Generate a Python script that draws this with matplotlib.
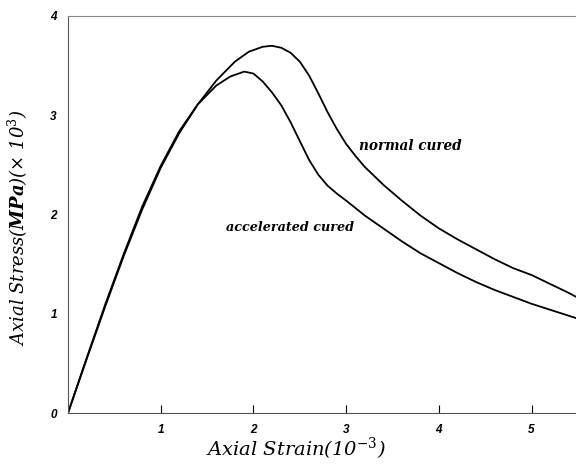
import matplotlib
matplotlib.use("Agg")
import matplotlib.pyplot as plt

# Data (strain in 1e-3, stress in 1e3 MPa)
strain_normal = [0, 0.2, 0.4, 0.6, 0.8, 1.0, 1.2, 1.4, 1.6, 1.8, 1.95, 2.1, 2.2, 2.3, 2.4,
                 2.5, 2.6, 2.7, 2.8, 2.9, 3.0, 3.1, 3.2, 3.4, 3.6, 3.8, 4.0, 4.2, 4.4,
                 4.6, 4.8, 5.0, 5.2, 5.4, 5.5]
stress_normal = [0, 0.54, 1.07, 1.58, 2.05, 2.47, 2.82, 3.11, 3.35, 3.54, 3.64, 3.69, 3.70,
                 3.68, 3.63, 3.54, 3.40, 3.22, 3.03, 2.86, 2.71, 2.59, 2.48, 2.30, 2.14,
                 1.99, 1.86, 1.75, 1.65, 1.55, 1.46, 1.39, 1.30, 1.21, 1.16]

strain_acc = [0, 0.2, 0.4, 0.6, 0.8, 1.0, 1.2, 1.4, 1.6, 1.75, 1.9, 2.0, 2.1, 2.2, 2.3,
              2.4, 2.5, 2.6, 2.7, 2.8, 2.9, 3.0, 3.2, 3.4, 3.6, 3.8, 4.0, 4.2, 4.4,
              4.6, 4.8, 5.0, 5.2, 5.4, 5.5]
stress_acc = [0, 0.55, 1.09, 1.60, 2.08, 2.49, 2.84, 3.11, 3.30, 3.39, 3.44, 3.42, 3.34,
              3.23, 3.10, 2.93, 2.74, 2.55, 2.40, 2.29, 2.21, 2.14, 1.99, 1.86, 1.73,
              1.61, 1.51, 1.41, 1.32, 1.24, 1.17, 1.10, 1.04, 0.98, 0.95]

x_ticks = [1, 2, 3, 4, 5]
y_ticks = [0, 1, 2, 3, 4]

plt.rcParams['mathtext.fontset'] = 'custom'
plt.rcParams['mathtext.rm'] = 'DejaVu Serif'
plt.rcParams['mathtext.it'] = 'DejaVu Serif:italic'
plt.rcParams['mathtext.bf'] = 'DejaVu Serif:bold:italic'
plt.rcParams['mathtext.default'] = 'it'

fig = plt.figure(figsize=(5.76, 4.71), dpi=100)
ax = fig.add_axes([68/576, 58/471, 510/576, 397/471])

ax.plot(strain_normal, stress_normal, color='black', lw=1.3, solid_joinstyle='round')
ax.plot(strain_acc, stress_acc, color='black', lw=1.3, solid_joinstyle='round')

ax.set_xlim(0, 5.5)
ax.set_ylim(0, 4)

ax.spines['right'].set_visible(False)
for s in ['top', 'left', 'bottom']:
    ax.spines[s].set_color('#555555')
    ax.spines[s].set_linewidth(0.8)
ax.spines['top'].set_color('#888888')

tickfont = dict(family='Liberation Sans', style='italic', weight='bold', size=8.5)
ax.set_xticks(x_ticks)
ax.set_xticklabels([str(t) for t in x_ticks], fontdict=tickfont)
ax.set_yticks(y_ticks)
ax.set_yticklabels([str(t) for t in y_ticks], fontdict=tickfont)
ax.tick_params(axis='x', direction='in', length=6, width=0.8, pad=8, colors='black')
ax.tick_params(axis='y', length=0, pad=8)

ax.text(3.14, 2.65, 'normal cured', fontsize=9.8, family='DejaVu Serif',
        style='italic', weight='bold')
ax.text(1.70, 1.83, 'accelerated cured', fontsize=9.2, family='DejaVu Serif',
        style='italic', weight='bold')

fig.text(296/576, 9/471, r'Axial Strain(10$^{-3}$)', ha='center', va='bottom',
         fontsize=14, family='DejaVu Serif', style='italic')
fig.text(18/576, 243/471, r'Axial Stress($\mathbf{MPa}$)($\times$ 10$^{3}$)', ha='center',
         va='center', rotation=90, fontsize=13, family='DejaVu Serif', style='italic')

fig.savefig('out.png', dpi=100)
